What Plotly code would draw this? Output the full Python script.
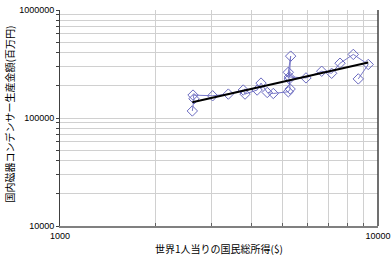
import numpy as np
import plotly.graph_objects as go

# World GNI per capita ($) and domestic ceramic capacitor production (million yen)
gni = [2607, 2638, 2620, 3020, 3383, 3770, 3818, 4168, 4287, 4484, 4686,
       5223, 5293, 5262, 5223, 5313, 5262, 5937, 6652, 7149, 7596, 8363, 9316, 8670]
prod = [116200, 150600, 163000, 160600, 166500, 181600, 166500, 181600, 210500, 172300, 168700,
        175000, 185500, 230100, 265000, 374000, 240000, 235000, 271000, 259400, 321600, 388000, 313000, 230100]

x_ticks = [1000, 2000, 3000, 4000, 5000, 6000, 7000, 8000, 9000, 10000]
x_text = ["1000", "", "", "", "", "", "", "", "", "10000"]
y_ticks = [10000 * m for m in range(1, 10)] + [100000 * m for m in range(1, 10)] + [1000000]
y_text = ["10000"] + [""] * 8 + ["100000"] + [""] * 8 + ["1000000"]

x_title = "世界1人当りの国民総所得($)"
y_title = "国内磁器コンデンサー生産金額(百万円)"

# power-law trendline fitted to the data
lx, ly = np.log10(gni), np.log10(prod)
b, a = np.polyfit(lx, ly, 1)
tx = np.array([min(gni), max(gni)])
ty = 10 ** (a + b * np.log10(tx))

fig = go.Figure()
fig.add_trace(go.Scatter(
    x=gni, y=prod, mode="lines+markers",
    line=dict(color="#7878c8", width=1),
    marker=dict(symbol="diamond-open", size=8, color="#6a6ac0", line=dict(width=1)),
    showlegend=False))
fig.add_trace(go.Scatter(
    x=tx, y=ty, mode="lines", line=dict(color="#000000", width=2), showlegend=False))

tickfont = dict(family="Liberation Sans, Arial, sans-serif", size=9, color="#000")
fig.update_xaxes(type="log", range=[3, 4], tickvals=x_ticks, ticktext=x_text,
                 showgrid=True, gridcolor="#d0d0d0", gridwidth=1,
                 showline=True, linecolor="#808080", linewidth=2, mirror=False,
                 ticks="inside", ticklen=3, tickcolor="#606060",
                 tickfont=tickfont, zeroline=False, automargin=False)
fig.update_yaxes(type="log", range=[4, 6], tickvals=y_ticks, ticktext=y_text,
                 showgrid=True, gridcolor="#d0d0d0", gridwidth=1,
                 showline=True, linecolor="#404040", linewidth=1, mirror=False,
                 ticks="outside", ticklen=3, tickcolor="#404040",
                 tickfont=tickfont, zeroline=False, automargin=False)

# right border
fig.add_shape(type="line", xref="paper", yref="paper", x0=1, x1=1, y0=0, y1=1,
              line=dict(color="#404040", width=1.5))

cjk = "Noto Sans CJK JP"
fig.add_annotation(text=y_title, xref="paper", yref="paper", x=-0.158, y=0.52,
                   textangle=-90, showarrow=False, font=dict(family=cjk, size=10, color="#000"),
                   xanchor="center", yanchor="middle")
fig.add_annotation(text=x_title, xref="paper", yref="paper", x=0.5, y=-0.105,
                   showarrow=False, font=dict(family=cjk, size=10, color="#000"),
                   xanchor="center", yanchor="middle")

fig.update_layout(width=391, height=257,
                  margin=dict(l=60, r=13, t=10, b=31),
                  paper_bgcolor="white", plot_bgcolor="white")

fig.write_html("out.html")
